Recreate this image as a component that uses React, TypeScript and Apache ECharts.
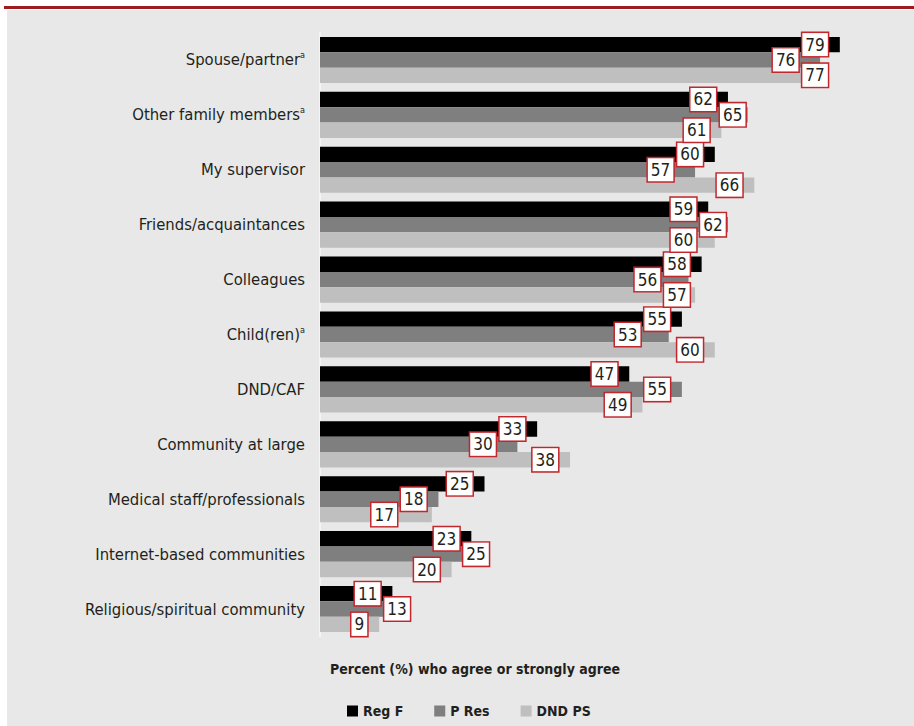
import React, { useEffect, useRef } from "react";
import * as echarts from "echarts";

const categories = [
  "Spouse/partner",
  "Other family members",
  "My supervisor",
  "Friends/acquaintances",
  "Colleagues",
  "Child(ren)",
  "DND/CAF",
  "Community at large",
  "Medical staff/professionals",
  "Internet-based communities",
  "Religious/spiritual community",
];
const footnoted = ["Spouse/partner", "Other family members", "Child(ren)"];

const seriesNames = ["Reg F", "P Res", "DND PS"];
const regF = [79, 62, 60, 59, 58, 55, 47, 33, 25, 23, 11];
const pRes = [76, 65, 57, 62, 56, 53, 55, 30, 18, 25, 13];
const dndPs = [77, 61, 66, 60, 57, 60, 49, 38, 17, 20, 9];
const colors = ["#000000", "#7f7f7f", "#bfbfbf"];

const axisTitle = "Percent (%) who agree or strongly agree";

const FONT = "'Liberation Sans Narrow', 'DejaVu Sans Condensed', 'Roboto Condensed', sans-serif";
const TEXT = "#231f20";

export default function App() {
  const ref = useRef<HTMLDivElement>(null);
  useEffect(() => {
    if (!ref.current) return;
    const chart = echarts.init(ref.current, null, { renderer: "svg" });
    const data = [regF, pRes, dndPs];
    const label = {
      show: true,
      position: "insideRight",
      distance: 12,
      backgroundColor: "#ffffff",
      borderColor: "#c1272d",
      borderWidth: 1.5,
      padding: [2, 3, 2, 3],
      color: TEXT,
      fontFamily: FONT,
      fontSize: 17,
      lineHeight: 19,
    };
    // shift labels horizontally so that labels of adjacent bars do not overlap
    const labelLayout = (p: any) => {
      const c = p.dataIndex;
      const s = p.seriesIndex;
      const vals = data.map((arr) => arr[c]);
      const scale = p.rect.width / vals[s];
      const w = p.labelRect.width;
      const myRight = p.labelRect.x + w;
      const d = p.rect.x + p.rect.width - myRight;
      const g = 1;
      const rights: number[] = [];
      for (let k = 0; k < vals.length; k++) {
        let r = p.rect.x + vals[k] * scale - d;
        if (k > 0) {
          const pr = rights[k - 1];
          const pl = pr - w;
          if (r > pl - g && r - w < pr + g) {
            const leftOpt = pl - g;
            const rightOpt = pr + g + w;
            r = r - leftOpt <= rightOpt - r ? leftOpt : rightOpt;
          }
        }
        rights.push(r);
      }
      return { dx: rights[s] - myRight };
    };
    chart.setOption({
      animation: false,
      backgroundColor: "#ffffff",
      graphic: [
        { type: "rect", shape: { x: 7, y: 10, width: 914, height: 726 }, style: { fill: "#e7e8e7" }, z: -10 },
        { type: "rect", shape: { x: 4, y: 6, width: 914, height: 3 }, style: { fill: "#9e1b20" }, z: -9 },
      ],
      title: {
        text: axisTitle,
        left: 325,
        top: 657,
        textStyle: { fontFamily: FONT, fontWeight: "bold", fontSize: 14, color: TEXT },
      },
      legend: {
        data: seriesNames,
        left: 342,
        top: 699,
        icon: "rect",
        itemWidth: 11,
        itemHeight: 11,
        itemGap: 31,
        textStyle: { fontFamily: FONT, fontWeight: "bold", fontSize: 14, color: TEXT },
      },
      grid: { left: 320, right: 67.6, top: 32.5, bottom: 89.5, containLabel: false },
      xAxis: {
        type: "value",
        min: 0,
        max: 80,
        show: false,
      },
      yAxis: {
        type: "category",
        data: categories,
        inverse: true,
        axisTick: { show: false },
        axisLine: { show: true, lineStyle: { color: "#f3f4f3", width: 2 } },
        axisLabel: {
          margin: 15,
          fontFamily: FONT,
          fontSize: 16.5,
          color: TEXT,
          formatter: (v: string) => (footnoted.includes(v) ? `{n|${v}}{s|a}` : `{n|${v}}`),
          rich: {
            n: { fontFamily: FONT, fontSize: 16.5, color: TEXT },
            s: { fontFamily: FONT, fontSize: 9, color: TEXT, padding: [0, 0, 9, 0] },
          },
        },
      },
      series: seriesNames.map((name, i) => ({
        name,
        type: "bar",
        data: data[i],
        barGap: "0%",
        barCategoryGap: "16%",
        itemStyle: { color: colors[i] },
        label,
        labelLayout,
      })),
    });
    return () => chart.dispose();
  }, []);
  return <div ref={ref} style={{ position: "absolute", left: 0, top: 0, width: 914, height: 726 }} />;
}
